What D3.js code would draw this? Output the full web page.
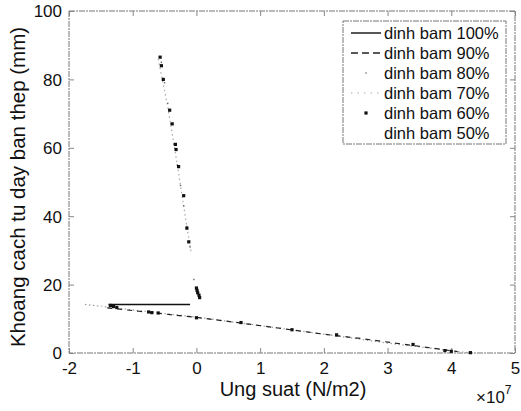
<!DOCTYPE html>
<html><head><meta charset="utf-8">
<script src="https://cdn.jsdelivr.net/npm/d3@7"></script>
<style>body{margin:0;background:#fff}svg{display:block}text{font-family:"Liberation Sans",Arial,Helvetica,sans-serif;fill:#111}</style>
</head><body>
<svg id="c" width="521" height="411"></svg>
<script>
// ---- data (stress in 1e7 N/m2, distance in mm) ----
const xTicks = [-2,-1,0,1,2,3,4,5];
const yTicks = [0,20,40,60,80,100];
const seriesNames = ["dinh bam 100%","dinh bam 90%","dinh bam 80%","dinh bam 70%","dinh bam 60%","dinh bam 50%"];

const s100x = [-1.38,-1.1,-0.8,-0.5,-0.1];
const s100y = [14.2,14.2,14.2,14.2,14.2];

const s90x = [-1.4,-0.9,-0.5,0,0.6,1.2,2.0,2.6,3.4,4.1];
const s90y = [13.2,12.2,11.4,10.4,9.0,7.5,5.5,4.2,2.2,0.4];

const s80x = [-0.55,-0.5,-0.45,-0.4,-0.35,-0.3,-0.25,-0.2,-0.15,-0.1,-0.04];
const s80y = [85,79,73,67,61,55,49,43,37,31,21.5];

const s70x = [-1.75,-1,0,1,2,3,4.3];
const s70y = [14.2,12.6,10.5,8.0,5.5,2.9,0];
const s70bx = [-0.6,-0.45,-0.3,-0.15,-0.08];
const s70by = [86,72,55,37,29];

const s60x = [-0.57,-0.55,-0.52,-0.42,-0.38,-0.33,-0.32,-0.28,-0.2,-0.15,-0.12,0.0,0.01,0.02,0.04,0.05,
              -1.35,-1.3,-1.25,-0.75,-0.7,-0.6,0,0.7,1.5,2.2,3.4,3.9,4.0,4.3];
const s60y = [86.5,84,80,71,67,61,59.5,54.5,46,36.5,32.5,19,18.3,17.6,16.9,16.2,
              13.9,13.6,13.3,12,11.8,11.7,10.3,8.9,6.8,5.3,2.5,0.7,0.5,0.1];

const s50x = [-1.5,0,2,4.2];
const s50y = [13.6,10.4,5.4,0];

// ---- drawing ----
const svg = d3.select("#c");
const m = {l:69, r:515, t:11, b:353};
const x = d3.scaleLinear().domain([-2,5]).range([m.l, m.r]);
const y = d3.scaleLinear().domain([0,100]).range([m.b, m.t]);
const zip = (xs, ys) => xs.map((v,i)=>[v, ys[i]]);
const line = d3.line().x(d=>x(d[0])).y(d=>y(d[1]));

// axes box
svg.append("rect").attr("x",m.l).attr("y",m.t).attr("width",m.r-m.l).attr("height",m.b-m.t)
  .attr("fill","none").attr("stroke","#777").attr("stroke-width",1).attr("stroke-dasharray","6,1,2,1");

// axes with inward ticks
const fs = "17px";
const gx = svg.append("g").attr("transform",`translate(0,${m.b})`)
  .call(d3.axisBottom(x).tickValues(xTicks).tickSize(-5).tickPadding(9).tickFormat(d3.format("d")));
const gxt = svg.append("g").attr("transform",`translate(0,${m.t})`)
  .call(d3.axisTop(x).tickValues(xTicks).tickSize(-5).tickFormat(""));
const gy = svg.append("g").attr("transform",`translate(${m.l},0)`)
  .call(d3.axisLeft(y).tickValues(yTicks).tickSize(-5).tickPadding(7));
const gyr = svg.append("g").attr("transform",`translate(${m.r},0)`)
  .call(d3.axisRight(y).tickValues(yTicks).tickSize(-5).tickFormat(""));
[gx,gxt,gy,gyr].forEach(g=>{
  g.select(".domain").remove();
  g.selectAll(".tick line").attr("stroke","#888");
  g.selectAll("text").style("font-size",fs).attr("fill","#111").style("font-family","Liberation Sans, Arial, sans-serif");
});
gx.selectAll("text").text(d=>d<0?"-"+Math.abs(d):d);
gy.selectAll("text").attr("dy","0.35em");

// axis labels
svg.append("text").attr("x",293).attr("y",396).attr("text-anchor","middle").style("font-size","20px").text("Ung suat (N/m2)");
svg.append("text").attr("transform","translate(25,187) rotate(-90)").attr("text-anchor","middle").style("font-size","20.5px").text("Khoang cach tu day ban thep (mm)");
const ex = svg.append("text").attr("x",476).attr("y",403).style("font-size","17px");
ex.append("tspan").text("\u00d710");
ex.append("tspan").attr("dy","-9").style("font-size","12px").text("7");

// series
const plot = svg.append("g");
plot.append("path").datum(zip(s70x,s70y)).attr("d",line).attr("fill","none").attr("stroke","#9a9a9a").attr("stroke-width",1.2).attr("stroke-dasharray","1.5,2.5");
plot.append("path").datum(zip(s70bx,s70by)).attr("d",line).attr("fill","none").attr("stroke","#aaa").attr("stroke-width",1.2).attr("stroke-dasharray","1.5,3");
plot.append("path").datum(zip(s50x,s50y)).attr("d",line).attr("fill","none").attr("stroke","#ececec").attr("stroke-width",0.8).attr("stroke-dasharray","1,4");
plot.append("path").datum(zip(s90x,s90y)).attr("d",line).attr("fill","none").attr("stroke","#222").attr("stroke-width",1.2).attr("stroke-dasharray","5,5");
plot.append("path").datum(zip(s100x,s100y)).attr("d",line).attr("fill","none").attr("stroke","#111").attr("stroke-width",1.6);
plot.selectAll(".p80").data(zip(s80x,s80y)).join("rect").attr("class","p80")
  .attr("x",d=>x(d[0])-0.7).attr("y",d=>y(d[1])-0.7).attr("width",1.4).attr("height",1.4).attr("fill","#666");
plot.selectAll(".p60").data(zip(s60x,s60y)).join("rect").attr("class","p60")
  .attr("x",d=>x(d[0])-1.6).attr("y",d=>y(d[1])-1.6).attr("width",3.2).attr("height",3.2).attr("fill","#111");

// legend
const lg = svg.append("g");
lg.append("rect").attr("x",343).attr("y",21).attr("width",163).attr("height",123)
  .attr("fill","#fff").attr("stroke","#777").attr("stroke-dasharray","6,1,2,1");
const styles = [
  {type:"line", stroke:"#111", dash:null, w:1.4},
  {type:"line", stroke:"#222", dash:"7,4", w:1.6},
  {type:"dot", fill:"#777", s:1.4},
  {type:"line", stroke:"#aaa", dash:"1.5,5", w:1.2},
  {type:"dot", fill:"#111", s:3.2},
  {type:"none"}
];
seriesNames.forEach((name,i)=>{
  const cy = 33 + i*20;
  const st = styles[i];
  if (st.type==="line") {
    lg.append("line").attr("x1",351).attr("x2",381).attr("y1",cy).attr("y2",cy)
      .attr("stroke",st.stroke).attr("stroke-width",st.w).attr("stroke-dasharray",st.dash);
  } else if (st.type==="dot") {
    lg.append("rect").attr("x",366-st.s/2).attr("y",cy-st.s/2).attr("width",st.s).attr("height",st.s).attr("fill",st.fill);
  }
  lg.append("text").attr("x",384).attr("y",cy).attr("dy","0.35em").style("font-size","16.5px").text(name);
});
</script>
</body></html>
